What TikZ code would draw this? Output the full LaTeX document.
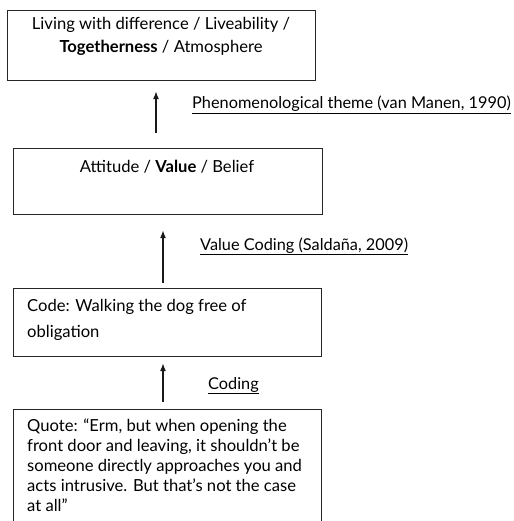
\documentclass[tikz,border=0pt]{standalone}
\usepackage{fontspec}
\setmainfont{Lato}
\usetikzlibrary{arrows.meta}
\begin{document}
\begin{tikzpicture}[x=1pt,y=-1pt,
  box/.style={draw=black!85,line width=1.2pt,inner sep=0pt},
  conn/.style={draw=black!90,line width=1.2pt,-{Latex[length=8pt,width=6pt]}},
  lab/.style={anchor=base west,inner sep=0pt,font=\fontsize{16.3}{20}\selectfont},
  txt/.style={inner sep=0pt,font=\fontsize{16.6}{20}\selectfont}]
\useasboundingbox (0,0) rectangle (513,521);
\clip (0,0) rectangle (513,521);
\node[box,minimum width=308pt,minimum height=70pt,anchor=north west] (b1) at (7,10) {};
\node[txt,align=center,anchor=base,font=\fontsize{16.6}{23}\selectfont] (t1) at (161,53) {Living with difference / Liveability /\\\textbf{Togetherness} / Atmosphere};
\node[box,minimum width=309pt,minimum height=66pt,anchor=north west] (b2) at (13,148) {};
\node[txt,anchor=base] (t2) at (167,173) {Attitude / \textbf{Value} / Belief};
\node[box,minimum width=308pt,minimum height=68pt,anchor=north west] (b3) at (13,288) {};
\node[txt,align=left,anchor=base west,font=\fontsize{16.6}{26}\selectfont] (t3) at (27,337) {Code: Walking the dog free of\\obligation};
\node[box,minimum width=308pt,minimum height=130pt,anchor=north west] (b4) at (13,409) {};
\node[txt,align=left,anchor=base west] (t4) at (27,511) {Quote: “Erm, but when opening the\\front door and leaving, it shouldn’t be\\someone directly approaches you and\\acts intrusive. But that’s not the case\\at all”};
\draw[conn,shorten <=15pt,shorten >=10pt] (b2.north -| 156,0) -- (b1.south -| 156,0);
\draw[conn,shorten <=5pt,shorten >=15pt] (b3.north -| 163,0) -- (b2.south -| 163,0);
\draw[conn,shorten <=7pt,shorten >=6pt] (b4.north -| 163,0) -- (b3.south -| 163,0);
\node[lab] (l1) at (192,109) {\underline{Phenomenological theme (van Manen, 1990)}};
\node[lab] (l2) at (200,250) {\underline{Value Coding (Saldaña, 2009)}};
\node[lab] (l3) at (208,389) {\underline{Coding}};
\end{tikzpicture}
\end{document}
